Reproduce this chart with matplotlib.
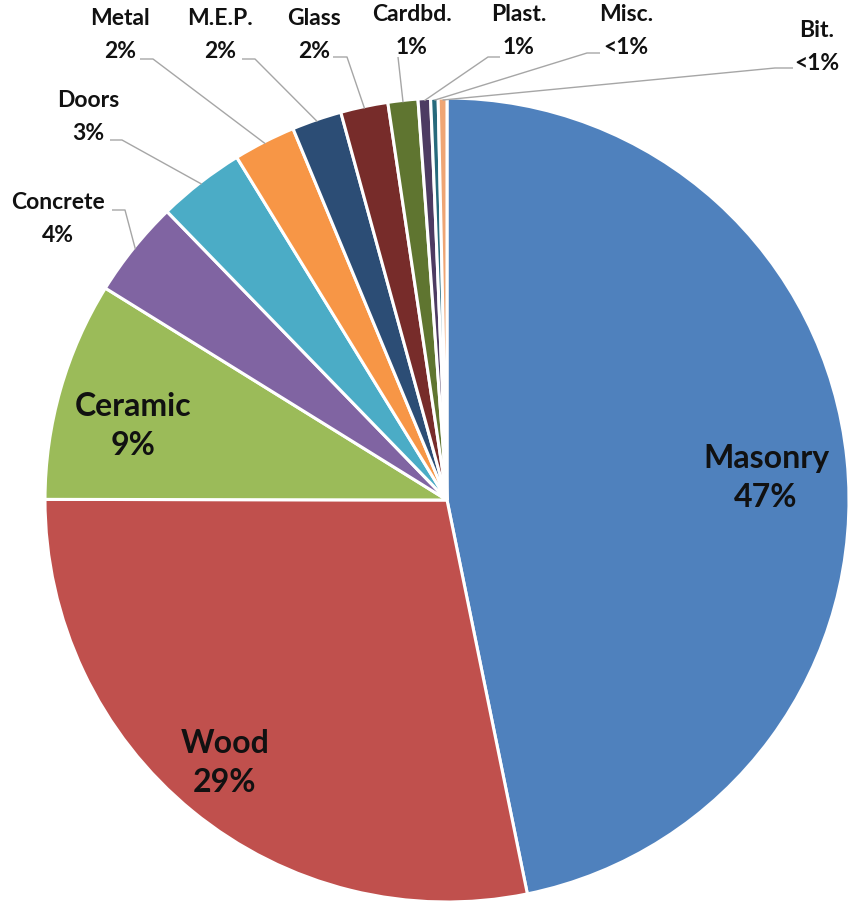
import matplotlib.pyplot as plt
import numpy as np

plt.rcParams["font.family"] = ["Lato", "DejaVu Sans"]

materials = ["Masonry", "Wood", "Ceramic", "Concrete", "Doors", "Metal",
             "M.E.P.", "Glass", "Cardbd.", "Plast.", "Misc.", "Bit."]
shares = [46.75, 28.2, 8.8, 3.9, 3.5, 2.5, 2.0, 1.9, 1.2, 0.5, 0.3, 0.35]
pct_labels = ["47%", "29%", "9%", "4%", "3%", "2%", "2%", "2%", "1%", "1%", "<1%", "<1%"]
colors = ["#4F81BD", "#C0504D", "#9BBB59", "#8064A2", "#4BACC6", "#F79646",
          "#2C4D75", "#772C2A", "#5F7530", "#4D3B62", "#276A7C", "#EFA574"]

W, H = 850, 908
CX, CY, R = 447, H - 500, 402

# big labels inside the pie (pixel positions of text centres)
inside = {"Masonry": (766, 478), "Wood": (225, 763), "Ceramic": (133, 426)}
# outside labels: text centre, elbow start, elbow end
outside = {
    "Concrete": ((58, 219), (112, 210), (125, 210)),
    "Doors": ((88, 117), (110, 140), (122, 140)),
    "Metal": ((120, 35), (140, 59), (153, 59)),
    "M.E.P.": ((220, 35), (242, 59), (255, 59)),
    "Glass": ((314, 35), (333, 57), (347, 57)),
    "Cardbd.": ((412, 31), (398, 57), (398, 57)),
    "Plast.": ((519, 31), (500, 57), (488, 57)),
    "Misc.": ((626, 31), (600, 53), (587, 53)),
    "Bit.": ((817, 47), (793, 68), (775, 68)),
}

fig = plt.figure(figsize=(W / 100, H / 100), dpi=100)
ax = fig.add_axes([0, 0, 1, 1])

wedges, _ = ax.pie(shares, colors=colors, startangle=90, counterclock=False,
                   center=(CX, CY), radius=R, frame=True,
                   wedgeprops=dict(edgecolor="white", linewidth=2.2))
ax.set_xlim(0, W)
ax.set_ylim(0, H)
ax.set_aspect("equal")
ax.axis("off")

for name, w, pct in zip(materials, wedges, pct_labels):
    if name in inside:
        x, y = inside[name]
        ax.text(x, H - y, f"{name}\n{pct}", ha="center", va="center",
                fontsize=23, fontweight="bold", color="#111111", linespacing=1.45)
    else:
        (tx, ty), (x0, y0), (x1, y1) = outside[name]
        mid = np.deg2rad((w.theta1 + w.theta2) / 2)
        ex, ey = CX + (R - 2) * np.cos(mid), CY + (R - 2) * np.sin(mid)
        ax.plot([x0, x1, ex], [H - y0, H - y1, ey], color="#A6A6A6", lw=1.0,
                solid_capstyle="butt")
        ax.text(tx, H - ty, f"{name}\n{pct}", ha="center", va="center",
                fontsize=16.5, fontweight="bold", color="#111111", linespacing=1.65)

fig.savefig("out.png", dpi=100)
